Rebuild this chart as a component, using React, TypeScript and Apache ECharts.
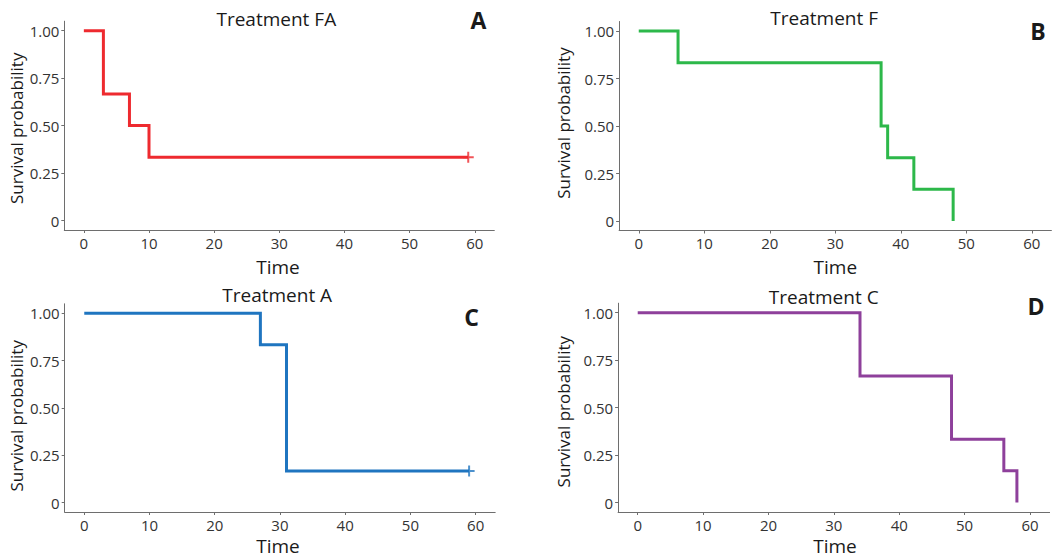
import React, { useEffect, useRef } from "react";
import * as echarts from "echarts";

// ---- data ----
const panelTitles = ["Treatment FA", "Treatment F", "Treatment A", "Treatment C"];
const panelLetters = ["A", "B", "C", "D"];
const lineColors = ["#ee2a2f", "#2db84a", "#1f75c0", "#8e409b"];

const faTimes = [0, 3, 7, 10, 59];
const faSurv = [1, 0.667, 0.5, 0.333, 0.333];
const fTimes = [0, 6, 37, 38, 42, 48];
const fSurv = [1, 0.833, 0.5, 0.333, 0.167, 0];
const aTimes = [0, 27, 31, 59];
const aSurv = [1, 0.833, 0.167, 0.167];
const cTimes = [0, 34, 48, 56, 58];
const cSurv = [1, 0.667, 0.333, 0.167, 0];

const censorTimes = [[59], [], [59], []];
const censorSurv = [[0.333], [], [0.167], []];

const xTicks = [0, 10, 20, 30, 40, 50, 60];
const yTicks = [0, 0.25, 0.5, 0.75, 1];
const yTickLabels = ["0", "0.25", "0.50", "0.75", "1.00"];
const xName = "Time";
const yName = "Survival probability";

const times = [faTimes, fTimes, aTimes, cTimes];
const survs = [faSurv, fSurv, aSurv, cSurv];

// ---- layout ----
const grids = [
  { left: 64.3, top: 21.2, width: 430, height: 208.8 },
  { left: 619.1, top: 21.5, width: 432.3, height: 209 },
  { left: 64.7, top: 303.8, width: 430.5, height: 208.2 },
  { left: 618.1, top: 303.2, width: 431.5, height: 208.8 },
];
const titlePos = [[276.3, 19], [824.2, 17.5], [277.2, 295], [823.7, 296.7]];
const letterPos = [[478.5, 20], [1038, 30.5], [471.5, 317], [1036, 305.5]];
const xNamePos = [[278, 266.5], [835.3, 266.5], [278, 545.5], [835, 545.5]];
const yNamePos = [[16.2, 128.3], [563.8, 123], [16.2, 415.8], [563.3, 411.7]];

const FONT = "'Open Sans', 'Noto Sans', sans-serif";
const AXIS_COLOR = "#6e6e6e";
const PLUS = "path://M4.5,0H6.5V4.5H11V6.5H6.5V11H4.5V6.5H0V4.5H4.5Z";

export default function App() {
  const ref = useRef<HTMLDivElement>(null);
  useEffect(() => {
    if (!ref.current) return;
    const chart = echarts.init(ref.current, null, { renderer: "svg" });

    const xAxis = grids.map((_, i) => ({
      type: "value",
      gridIndex: i,
      min: -3,
      max: 63,
      axisLine: { show: true, onZero: false, lineStyle: { color: AXIS_COLOR, width: 1 } },
      axisTick: { show: true, length: 3, lineStyle: { color: AXIS_COLOR }, customValues: xTicks },
      axisLabel: {
        customValues: xTicks,
        color: "#333",
        fontFamily: FONT,
        fontSize: 15,
        lineHeight: 15,
        margin: 5,
      },
      splitLine: { show: false },
    }));
    const yAxis = grids.map((_, i) => ({
      type: "value",
      gridIndex: i,
      min: -0.05,
      max: 1.05,
      axisLine: { show: true, onZero: false, lineStyle: { color: AXIS_COLOR, width: 1 } },
      axisTick: { show: true, length: 3, lineStyle: { color: AXIS_COLOR }, customValues: yTicks },
      axisLabel: {
        customValues: yTicks,
        color: "#333",
        fontFamily: FONT,
        fontSize: 15,
        lineHeight: 15,
        margin: 5,
        formatter: (v: number) => {
          const idx = yTicks.findIndex((t) => Math.abs(t - v) < 1e-6);
          return idx >= 0 ? yTickLabels[idx] : "";
        },
      },
      splitLine: { show: false },
    }));

    const series: any[] = [];
    grids.forEach((_, i) => {
      series.push({
        type: "line",
        xAxisIndex: i,
        yAxisIndex: i,
        step: "end",
        showSymbol: false,
        data: times[i].map((t, k) => [t, survs[i][k]]),
        lineStyle: { color: lineColors[i], width: 3, cap: "butt", join: "miter" },
        itemStyle: { color: lineColors[i] },
      });
      if (censorTimes[i].length) {
        series.push({
          type: "scatter",
          xAxisIndex: i,
          yAxisIndex: i,
          symbol: PLUS,
          symbolSize: 11,
          data: censorTimes[i].map((t, k) => [t, censorSurv[i][k]]),
          itemStyle: { color: lineColors[i] },
        });
      }
    });

    const graphic: any[] = [];
    grids.forEach((_, i) => {
      graphic.push({
        type: "text",
        x: titlePos[i][0],
        y: titlePos[i][1],
        style: {
          text: panelTitles[i],
          fontFamily: FONT,
          fontSize: 19,
          lineHeight: 19,
          fill: "#1a1a1a",
          align: "center",
          verticalAlign: "middle",
        },
      });
      graphic.push({
        type: "text",
        x: letterPos[i][0],
        y: letterPos[i][1],
        style: {
          text: panelLetters[i],
          fontFamily: FONT,
          fontWeight: "bold",
          fontSize: 23,
          lineHeight: 23,
          fill: "#1a1a1a",
          align: "center",
          verticalAlign: "middle",
        },
      });
      graphic.push({
        type: "text",
        x: xNamePos[i][0],
        y: xNamePos[i][1],
        style: {
          text: xName,
          fontFamily: FONT,
          fontSize: 19,
          lineHeight: 19,
          fill: "#1a1a1a",
          align: "center",
          verticalAlign: "middle",
        },
      });
      graphic.push({
        type: "text",
        x: yNamePos[i][0],
        y: yNamePos[i][1],
        rotation: Math.PI / 2,
        style: {
          text: yName,
          fontFamily: FONT,
          fontSize: 17,
          lineHeight: 17,
          fill: "#1a1a1a",
          align: "center",
          verticalAlign: "middle",
        },
      });
    });

    chart.setOption({
      animation: false,
      backgroundColor: "#ffffff",
      grid: grids.map((g) => ({ ...g, containLabel: false })),
      xAxis,
      yAxis,
      series,
      graphic,
    });
    return () => chart.dispose();
  }, []);

  return (
    <div
      ref={ref}
      style={{ position: "absolute", left: 0, top: 0, width: 1055, height: 559 }}
    />
  );
}
